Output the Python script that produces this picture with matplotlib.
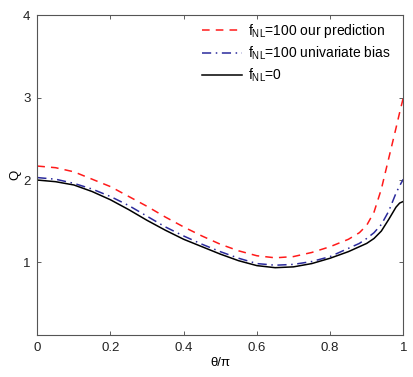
import matplotlib
matplotlib.use("Agg")
import matplotlib.pyplot as plt

plt.rcParams['font.family'] = ['Liberation Sans', 'DejaVu Sans']
plt.rcParams['mathtext.fontset'] = 'custom'
plt.rcParams['mathtext.rm'] = 'Liberation Sans'
plt.rcParams['mathtext.it'] = 'Liberation Sans'

# theta/pi sample points
theta = [0, 0.05, 0.1, 0.15, 0.2, 0.25, 0.3, 0.35, 0.4, 0.45, 0.5, 0.55, 0.6,
         0.65, 0.7, 0.75, 0.8, 0.85, 0.88, 0.9, 0.92, 0.94, 0.96, 0.98, 0.99, 1.0]

q_pred = [2.17, 2.15, 2.10, 2.01, 1.92, 1.80, 1.68, 1.55, 1.43, 1.32, 1.22, 1.14, 1.08,
          1.055, 1.07, 1.12, 1.19, 1.28, 1.36, 1.45, 1.61, 1.89, 2.26, 2.63, 2.82, 3.0]
q_univ = [2.03, 2.01, 1.96, 1.89, 1.80, 1.69, 1.56, 1.43, 1.32, 1.22, 1.13, 1.05, 0.985,
          0.965, 0.975, 1.01, 1.07, 1.17, 1.23, 1.29, 1.36, 1.46, 1.62, 1.84, 1.93, 2.01]
q_zero = [2.00, 1.98, 1.94, 1.86, 1.76, 1.64, 1.51, 1.39, 1.28, 1.19, 1.10, 1.02, 0.96,
          0.935, 0.945, 0.985, 1.05, 1.13, 1.19, 1.23, 1.29, 1.38, 1.52, 1.67, 1.72, 1.74]

labels = ['f$_{\\rm NL}$=100 our prediction', 'f$_{\\rm NL}$=100 univariate bias', 'f$_{\\rm NL}$=0']

fig = plt.figure(figsize=(4.13, 3.77), dpi=100)
ax = fig.add_axes([0.0903, 0.1114, 0.8862, 0.8476])

ax.plot(theta, q_pred, color='#ff1a1a', ls=(0, (5, 4)), lw=1.1, label=labels[0])
ax.plot(theta, q_univ, color='#2b2b9c', ls=(0, (6, 3, 1, 3)), lw=1.1, label=labels[1])
ax.plot(theta, q_zero, color='black', ls='-', lw=1.1, label=labels[2])

ax.set_xlim(0, 1)
ax.set_ylim(0.117, 4)
ax.set_xticks([0, 0.2, 0.4, 0.6, 0.8, 1])
ax.set_xticklabels(['0', '0.2', '0.4', '0.6', '0.8', '1'])
ax.set_yticks([1, 2, 3, 4])
ax.tick_params(direction='in', top=True, right=True, length=3, width=0.6,
               labelsize=9.5, colors='#444444', labelcolor='#222222', pad=5)
for s in ax.spines.values():
    s.set_color('#555555')
    s.set_linewidth(0.8)

ax.set_xlabel('θ/π', fontsize=9.5, labelpad=2)
ax.set_ylabel('Q', fontsize=9.5, labelpad=1)

ax.legend(loc='upper right', bbox_to_anchor=(1.0, 1.02), frameon=False, fontsize=10,
          handlelength=2.9, handletextpad=0.4, labelspacing=0.35)

fig.savefig('out.png', dpi=100)
